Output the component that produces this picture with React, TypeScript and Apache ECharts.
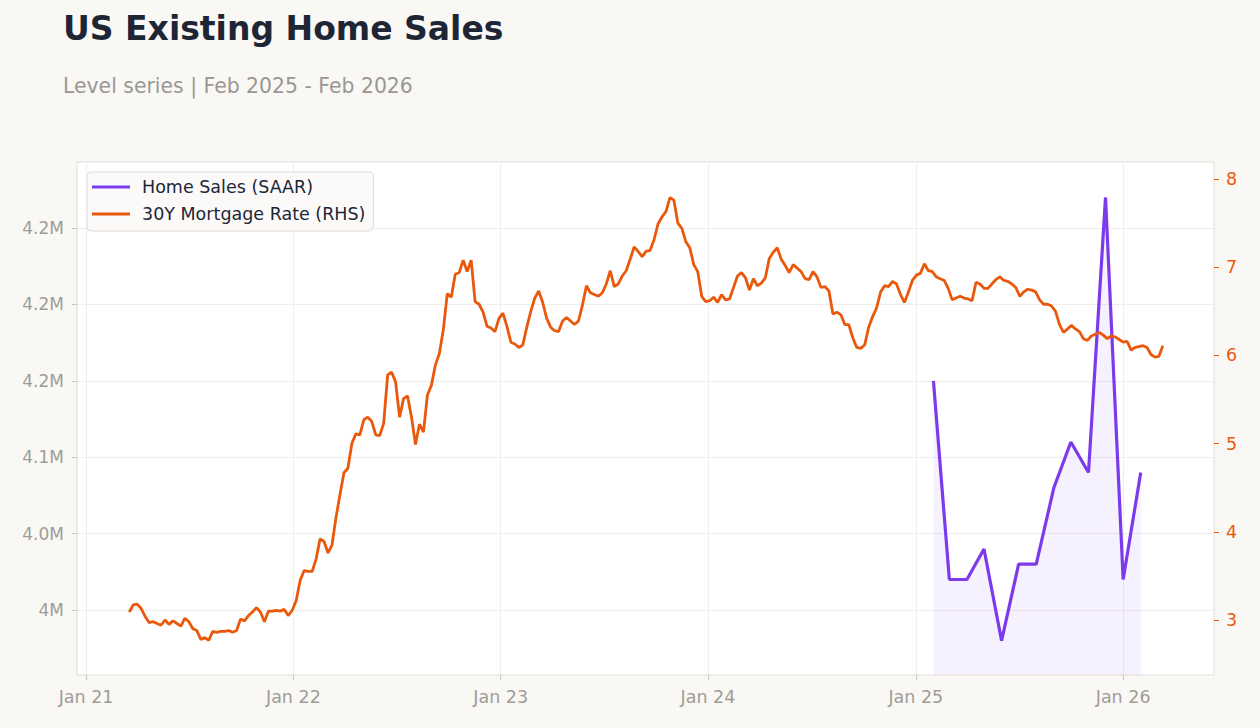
import React, { useEffect, useRef } from "react";
import * as echarts from "echarts";

// ---- Existing home sales, SAAR (millions of units), monthly ----
const salesMonths = [
  "2025-02-01", "2025-03-01", "2025-04-01", "2025-05-01", "2025-06-01", "2025-07-01",
  "2025-08-01", "2025-09-01", "2025-10-01", "2025-11-01", "2025-12-01", "2026-01-01",
  "2026-02-01",
];
const homeSales = [4.15, 4.02, 4.02, 4.04, 3.98, 4.03, 4.03, 4.08, 4.11, 4.09, 4.27, 4.02, 4.09];

// ---- 30-year fixed mortgage rate (%), weekly, starting 2021-03-18 ----
const mortgageStart = "2021-03-18";
const rate2021 = [
  3.09, 3.17, 3.18, 3.13, 3.04, 2.97, 2.98, 2.96, 2.94, 3.0, 2.95, 2.99, 2.96, 2.93,
  3.02, 2.98, 2.9, 2.88, 2.78, 2.8, 2.77, 2.87, 2.86, 2.87, 2.87, 2.88, 2.86, 2.88,
  3.01, 2.99, 3.05, 3.09, 3.14, 3.09, 2.98, 3.1, 3.1, 3.11, 3.1, 3.12, 3.05, 3.11,
];
const rate2022 = [
  3.22, 3.45, 3.56, 3.55, 3.55, 3.69, 3.92, 3.89, 3.76, 3.85, 4.16, 4.42, 4.67, 4.72,
  5.0, 5.11, 5.1, 5.27, 5.3, 5.25, 5.1, 5.09, 5.23, 5.78, 5.81, 5.7, 5.3, 5.51, 5.54,
  5.3, 4.99, 5.22, 5.13, 5.55, 5.66, 5.89, 6.02, 6.29, 6.7, 6.66, 6.92, 6.94, 7.08,
  6.95, 7.08, 6.61, 6.58, 6.49, 6.33, 6.31, 6.27, 6.42,
];
const rate2023 = [
  6.48, 6.33, 6.15, 6.13, 6.09, 6.12, 6.32, 6.5, 6.65, 6.73, 6.6, 6.42, 6.32, 6.28,
  6.27, 6.39, 6.43, 6.39, 6.35, 6.39, 6.57, 6.79, 6.71, 6.69, 6.67, 6.71, 6.81, 6.96,
  6.78, 6.81, 6.9, 6.96, 7.09, 7.23, 7.18, 7.12, 7.18, 7.19, 7.31, 7.49, 7.57, 7.63,
  7.79, 7.76, 7.5, 7.44, 7.29, 7.22, 7.03, 6.95, 6.67, 6.61,
];
const rate2024 = [
  6.62, 6.66, 6.6, 6.69, 6.63, 6.64, 6.77, 6.9, 6.94, 6.88, 6.74, 6.87, 6.79, 6.82,
  6.88, 7.1, 7.17, 7.22, 7.09, 7.02, 6.94, 7.03, 6.99, 6.95, 6.87, 6.86, 6.95, 6.89,
  6.77, 6.78, 6.73, 6.47, 6.49, 6.46, 6.35, 6.35, 6.2, 6.09, 6.08, 6.12, 6.32, 6.44,
  6.54, 6.72, 6.79, 6.78, 6.84, 6.81, 6.69, 6.6, 6.72, 6.85,
];
const rate2025 = [
  6.91, 6.93, 7.04, 6.96, 6.95, 6.89, 6.87, 6.85, 6.76, 6.63, 6.65, 6.67, 6.65, 6.64,
  6.62, 6.83, 6.81, 6.76, 6.76, 6.81, 6.86, 6.89, 6.85, 6.84, 6.81, 6.77, 6.67, 6.72,
  6.75, 6.74, 6.72, 6.63, 6.58, 6.58, 6.56, 6.5, 6.35, 6.26, 6.3, 6.34, 6.3, 6.27,
  6.19, 6.17, 6.22, 6.24, 6.26, 6.23, 6.19, 6.22, 6.21, 6.18, 6.15,
];
const rate2026 = [6.16, 6.06, 6.09, 6.1, 6.11, 6.09, 6.01, 5.98, 5.99, 6.11];

// ---- axis ticks ----
const salesTicks = [4.0, 4.05, 4.1, 4.15, 4.2, 4.25];
const salesTickLabels = ["4M", "4.0M", "4.1M", "4.2M", "4.2M", "4.2M"];
const rateTicks = [3, 4, 5, 6, 7, 8];
const yearTicks = ["2021-01-01", "2022-01-01", "2023-01-01", "2024-01-01", "2025-01-01", "2026-01-01"];
const yearTickLabels = ["Jan 21", "Jan 22", "Jan 23", "Jan 24", "Jan 25", "Jan 26"];

const TITLE = "US Existing Home Sales";
const SUBTITLE = "Level series | Feb 2025 - Feb 2026";

const PURPLE = "#7c3aed";
const ORANGE = "#ea580c";
const MUTED = "#a09c97";
const FONT = "DejaVu Sans";
const TICK_FONT = 17.5;

const DAY = 86400000;
const ts = (d: string) => Date.parse(d + "T00:00:00Z");

export default function App() {
  const ref = useRef<HTMLDivElement>(null);

  useEffect(() => {
    if (!ref.current) return;
    const chart = echarts.init(ref.current, undefined, { renderer: "svg" });

    const rates = [...rate2021, ...rate2022, ...rate2023, ...rate2024, ...rate2025, ...rate2026];
    const start = ts(mortgageStart);
    const rateData = rates.map((v, i) => [start + i * 7 * DAY, v]);
    const salesData = homeSales.map((v, i) => [ts(salesMonths[i]), v]);
    const xTickValues = yearTicks.map(ts);

    chart.setOption({
      animation: false,
      backgroundColor: "#f9f8f5",
      textStyle: { fontFamily: FONT },
      title: [
        {
          text: TITLE,
          left: 63,
          top: 12,
          padding: 0,
          textStyle: { fontFamily: FONT, fontSize: 33, fontWeight: "bold", color: "#1e2636" },
        },
        {
          text: SUBTITLE,
          left: 63,
          top: 76,
          padding: 0,
          textStyle: { fontFamily: FONT, fontSize: 20.4, fontWeight: "normal", color: "#9a9793" },
        },
      ],
      legend: {
        orient: "vertical",
        left: 87,
        top: 172,
        padding: [5, 8, 7, 5],
        itemGap: 7,
        itemWidth: 38,
        itemHeight: 3,
        backgroundColor: "rgba(251,250,248,0.9)",
        borderColor: "#e2ded8",
        borderWidth: 1,
        borderRadius: 4,
        textStyle: {
          fontFamily: FONT,
          fontSize: TICK_FONT,
          color: "#1e2636",
          lineHeight: 20,
          padding: [0, 0, 0, 7],
        },
        data: [
          { name: "Home Sales (SAAR)", icon: "rect" },
          { name: "30Y Mortgage Rate (RHS)", icon: "rect" },
        ],
      },
      grid: {
        left: 77,
        right: 46,
        top: 162,
        bottom: 53,
        show: true,
        backgroundColor: "#ffffff",
        borderColor: "#e2ded8",
        borderWidth: 1,
      },
      xAxis: {
        type: "value",
        min: ts("2020-12-16"),
        max: ts("2026-06-10"),
        axisLine: { show: false },
        axisTick: { show: true, length: 5, lineStyle: { color: "#c9c5bf" }, customValues: xTickValues },
        axisLabel: {
          customValues: xTickValues,
          color: MUTED,
          fontSize: TICK_FONT,
          fontFamily: FONT,
          margin: 13,
          formatter: (v: number) => {
            const i = xTickValues.indexOf(v);
            return i >= 0 ? yearTickLabels[i] : "";
          },
        },
        splitLine: { show: true, lineStyle: { color: "#f0eeeb", width: 1 } },
      },
      yAxis: [
        {
          type: "value",
          position: "left",
          min: 3.9575,
          max: 4.2932,
          axisLine: { show: false },
          axisTick: { show: true, length: 5, lineStyle: { color: "#c9c5bf" }, customValues: salesTicks },
          axisLabel: {
            customValues: salesTicks,
            color: MUTED,
            fontSize: 17,
            fontFamily: FONT,
            margin: 13,
            formatter: (v: number) => {
              const i = salesTicks.findIndex((t) => Math.abs(t - v) < 1e-9);
              return i >= 0 ? salesTickLabels[i] : "";
            },
          },
          splitLine: { show: true, lineStyle: { color: "#f0eeeb", width: 1 } },
        },
        {
          type: "value",
          position: "right",
          min: 2.376,
          max: 8.193,
          axisLine: { show: false },
          axisTick: { show: true, length: 5, lineStyle: { color: ORANGE }, customValues: rateTicks },
          axisLabel: {
            customValues: rateTicks,
            color: ORANGE,
            fontSize: TICK_FONT,
            fontFamily: FONT,
            margin: 12,
          },
          splitLine: { show: false },
        },
      ],
      series: [
        {
          name: "Home Sales (SAAR)",
          type: "line",
          yAxisIndex: 0,
          data: salesData,
          showSymbol: false,
          lineStyle: { color: PURPLE, width: 3.2 },
          itemStyle: { color: PURPLE },
          areaStyle: { color: "rgba(124,58,237,0.1)", origin: "start" },
          z: 2,
        },
        {
          name: "30Y Mortgage Rate (RHS)",
          type: "line",
          yAxisIndex: 1,
          data: rateData,
          showSymbol: false,
          lineStyle: { color: ORANGE, width: 2.8 },
          itemStyle: { color: ORANGE },
          z: 3,
        },
      ],
    });

    return () => chart.dispose();
  }, []);

  return (
    <div
      ref={ref}
      style={{ position: "fixed", left: 0, top: 0, width: 1260, height: 728 }}
    />
  );
}
